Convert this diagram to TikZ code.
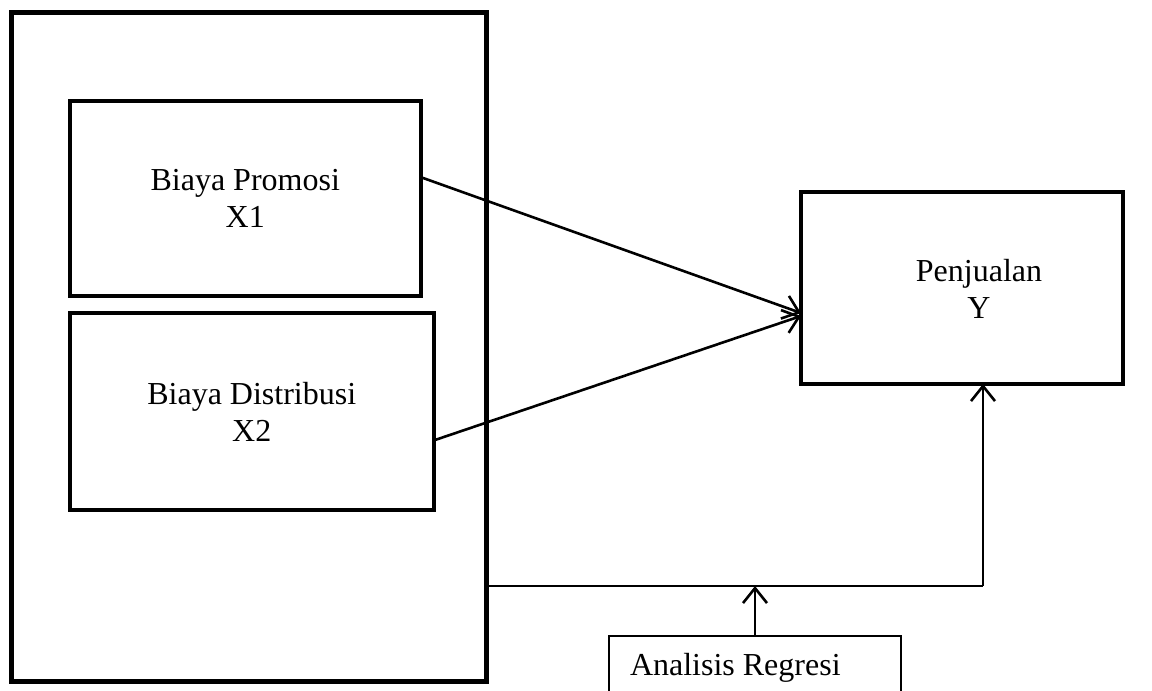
\documentclass[tikz,border=0pt]{standalone}
\usepackage{fontspec}
\setmainfont{Liberation Serif}
\usetikzlibrary{arrows.meta,calc}
\begin{document}
\begin{tikzpicture}[x=1pt,y=-1pt,
  every node/.style={font=\fontsize{32}{37}\selectfont, inner sep=0pt, outer sep=0pt},
  varbox/.style={draw, line width=4pt, align=center},
  outerbox/.style={draw, line width=5pt},
  link/.style={line width=2.6pt, -{Straight Barb[length=15pt,width=24pt,line width=2.6pt]}},
  thinlink/.style={line width=1.8pt},
  regbox/.style={draw, line width=1.5pt}]
  \useasboundingbox (0,0) rectangle (1152,691);
  \clip (0,0) rectangle (1152,691);

  % outer frame around the independent variables
  \node[outerbox, minimum width=475pt, minimum height=669pt] (frame) at (249,347) {};

  % independent variables
  \node[varbox, minimum width=351.5pt, minimum height=195.5pt] (b1) at (245.25,198.25) {Biaya Promosi\\X1};
  \node[varbox, minimum width=363.5pt, minimum height=197pt] (b2) at (251.75,411.5) {Biaya Distribusi\\X2};

  % dependent variable
  \node[varbox, minimum width=322pt, minimum height=192pt] (py) at (962,288) {};
  \node (pylabel) at (979,289) [align=center] {Penjualan\\Y};

  % regression analysis box
  \node[regbox, minimum width=292pt, minimum height=100pt] (reg) at (755,686) {};
  \node[anchor=base west] (reglabel) at (630,675) {Analisis Regresi};

  % effects of X1 and X2 on Y
  \draw[link] ([yshift=21pt]b1.east) -- ([yshift=-25pt]py.west);
  \draw[link] ([yshift=-29pt]b2.east) -- ([yshift=-28pt]py.west);

  % joint path from the frame to Y
  \coordinate (jn) at ([yshift=-239pt]frame.east);
  \coordinate (corner) at (983,586);
  \coordinate (mid) at (755,586);
  \draw[thinlink] (jn) -- (corner);
  \draw[link] (corner) -- ([xshift=21pt]py.south);
  \draw[link] (reg.north) -- (mid);
\end{tikzpicture}
\end{document}
